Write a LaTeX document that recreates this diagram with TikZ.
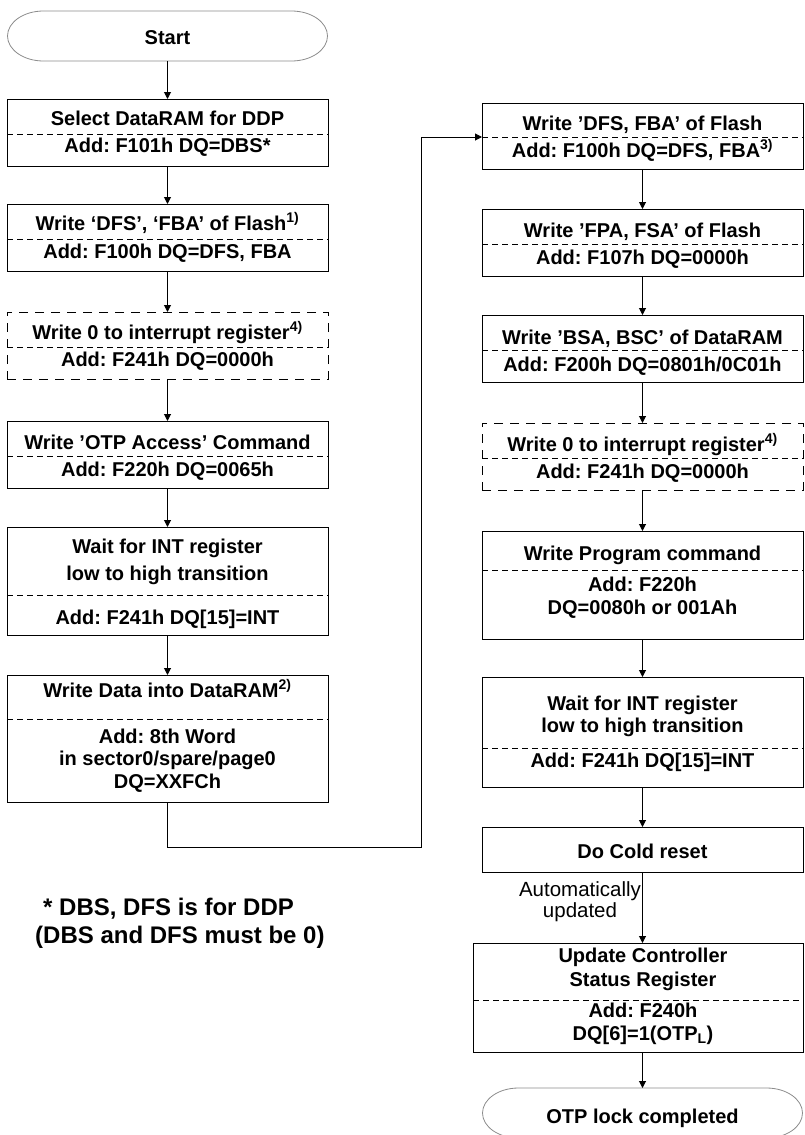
\documentclass[tikz,border=0pt]{standalone}
\usepackage{fontspec}
\setmainfont{Liberation Sans}
\usetikzlibrary{arrows.meta}
\definecolor{termgray}{HTML}{8C8C8C}
\frenchspacing
\begin{document}
\begin{tikzpicture}[x=1pt,y=-1pt,
  box/.style={draw, line width=1pt, rectangle, inner sep=0pt, outer sep=0pt, minimum width=321pt},
  dbox/.style={box, dash pattern=on 9pt off 7pt},
  term/.style={rectangle, inner sep=0pt, outer sep=0pt, minimum width=321pt, minimum height=50pt},
  txt/.style={anchor=base, inner sep=0pt, font=\bfseries\fontsize{20}{24}\selectfont},
  note/.style={anchor=base, inner sep=0pt, font=\fontsize{20.5}{24}\selectfont},
  foot/.style={anchor=base west, inner sep=0pt, font=\bfseries\fontsize{24}{28}\selectfont},
  arr/.style={-{Triangle[length=7pt,width=7pt]}, line width=1pt},
  divider/.style={dash pattern=on 6pt off 4pt, line width=0.8pt},
  termline/.style={draw=termgray, line width=0.8pt}]
\useasboundingbox (0,0) rectangle (804,1135);
\clip (0,0) rectangle (804,1135);

% ---------------- left column ----------------
\node[term] (start) at (167.5,36) {};
\draw[termline] (43.5,11) -- (291.5,11) arc[start angle=-90,end angle=90,x radius=36,y radius=25] -- (43.5,61) arc[start angle=90,end angle=270,x radius=36,y radius=25] -- cycle;
\node[txt] (t0) at (167.5,44) {Start};

\node[box, minimum height=67pt] (b1) at (167.5,132.5) {};
\draw[divider] (b1.west |- 0,134) -- (b1.east |- 0,134);
\node[txt] (b1a) at (167.5,125) {Select DataRAM for DDP};
\node[txt] (b1b) at (167.5,152) {Add: F101h DQ=DBS*};

\node[box, minimum height=67pt] (b2) at (167.5,237.5) {};
\draw[divider] (b2.west |- 0,239) -- (b2.east |- 0,239);
\node[txt] (b2a) at (167.5,230) {Write ‘DFS’, ‘FBA’ of Flash\textsuperscript{1)}};
\node[txt] (b2b) at (167.5,258) {Add: F100h DQ=DFS, FBA};

\node[dbox, minimum height=67pt] (b3) at (167.5,345.5) {};
\draw[divider] (b3.west |- 0,347) -- (b3.east |- 0,347);
\node[txt] (b3a) at (167.5,339) {Write 0 to interrupt register\textsuperscript{4)}};
\node[txt] (b3b) at (167.5,366) {Add: F241h DQ=0000h};

\node[box, minimum height=67pt] (b4) at (167.5,454.5) {};
\draw[divider] (b4.west |- 0,456) -- (b4.east |- 0,456);
\node[txt] (b4a) at (167.5,449) {Write ’OTP Access’ Command};
\node[txt] (b4b) at (167.5,476) {Add: F220h DQ=0065h};

\node[box, minimum height=108pt] (b5) at (167.5,581) {};
\draw[divider] (b5.west |- 0,595) -- (b5.east |- 0,595);
\node[txt] (b5a) at (167.5,553) {Wait for INT register};
\node[txt] (b5b) at (167.5,580) {low to high transition};
\node[txt] (b5c) at (167.5,624) {Add: F241h DQ[15]=INT};

\node[box, minimum height=127pt] (b6) at (167.5,738.5) {};
\draw[divider] (b6.west |- 0,719) -- (b6.east |- 0,719);
\node[txt] (b6a) at (167.5,697) {Write Data into DataRAM\textsuperscript{2)}};
\node[txt] (b6b) at (167.5,743) {Add: 8th Word};
\node[txt] (b6c) at (167.5,765) {in sector0/spare/page0};
\node[txt] (b6d) at (167.5,788) {DQ=XXFCh};

\node[foot] (f1) at (43,915) {* DBS, DFS is for DDP};
\node[foot] (f2) at (35,943) {(DBS and DFS must be 0)};

% ---------------- right column ----------------
\node[box, minimum height=66pt] (r1) at (642.5,136) {};
\draw[divider] (r1.west |- 0,137) -- (r1.east |- 0,137);
\node[txt] (r1a) at (642.5,130) {Write ’DFS, FBA’ of Flash};
\node[txt] (r1b) at (642.5,157) {Add: F100h DQ=DFS, FBA\textsuperscript{3)}};

\node[box, minimum height=67pt] (r2) at (642.5,242.5) {};
\draw[divider] (r2.west |- 0,244) -- (r2.east |- 0,244);
\node[txt] (r2a) at (642.5,237) {Write ’FPA, FSA’ of Flash};
\node[txt] (r2b) at (642.5,264) {Add: F107h DQ=0000h};

\node[box, minimum height=67pt] (r3) at (642.5,348.5) {};
\draw[divider] (r3.west |- 0,350) -- (r3.east |- 0,350);
\node[txt] (r3a) at (642.5,344) {Write ’BSA, BSC’ of DataRAM};
\node[txt] (r3b) at (642.5,371) {Add: F200h DQ=0801h/0C01h};

\node[dbox, minimum height=67pt] (r4) at (642.5,456.5) {};
\draw[divider] (r4.west |- 0,458) -- (r4.east |- 0,458);
\node[txt] (r4a) at (642.5,451) {Write 0 to interrupt register\textsuperscript{4)}};
\node[txt] (r4b) at (642.5,478) {Add: F241h DQ=0000h};

\node[box, minimum height=108pt] (r5) at (642.5,585) {};
\draw[divider] (r5.west |- 0,570) -- (r5.east |- 0,570);
\node[txt] (r5a) at (642.5,560) {Write Program command};
\node[txt] (r5b) at (642.5,591) {Add: F220h};
\node[txt] (r5c) at (642.5,614) {DQ=0080h or 001Ah};

\node[box, minimum height=110pt] (r6) at (642.5,732) {};
\draw[divider] (r6.west |- 0,748) -- (r6.east |- 0,748);
\node[txt] (r6a) at (642.5,710) {Wait for INT register};
\node[txt] (r6b) at (642.5,732) {low to high transition};
\node[txt] (r6c) at (642.5,767) {Add: F241h DQ[15]=INT};

\node[box, minimum height=45pt] (r7) at (642.5,849.5) {};
\node[txt] (r7a) at (642.5,858) {Do Cold reset};

\node[box, minimum width=330pt, minimum height=109pt] (r8) at (638,997.5) {};
\draw[divider] (r8.west |- 0,1000) -- (r8.east |- 0,1000);
\node[txt] (r8a) at (643,962) {Update Controller};
\node[txt] (r8b) at (643,986) {Status Register};
\node[txt] (r8c) at (643,1017) {Add: F240h};
\node[txt] (r8d) at (643,1040) {DQ[6]=1(OTP\textsubscript{L})};

\node[term] (end) at (642.5,1113) {};
\draw[termline] (518.5,1088) -- (766.5,1088) arc[start angle=-90,end angle=90,x radius=36,y radius=25] -- (518.5,1138) arc[start angle=90,end angle=270,x radius=36,y radius=25] -- cycle;
\node[txt] (enda) at (642.5,1123) {OTP lock completed};

\node[note] (n1) at (580,896) {Automatically};
\node[note] (n2) at (580,917) {updated};

% ---------------- connectors ----------------
\draw[arr] (start.south) -- (b1.north);
\draw[arr] (b1.south) -- (b2.north);
\draw[arr] (b2.south) -- (b3.north);
\draw[arr] (b3.south) -- (b4.north);
\draw[arr] (b4.south) -- (b5.north);
\draw[arr] (b5.south) -- (b6.north);
\coordinate (c1) at (421,847);
\coordinate (c2) at (421,137);
\draw[arr] (b6.south) |- (c1) -- (c2) -- (c2 -| r1.west);
\draw[arr] (r1.south) -- (r2.north);
\draw[arr] (r2.south) -- (r3.north);
\draw[arr] (r3.south) -- (r4.north);
\draw[arr] (r4.south) -- (r5.north);
\draw[arr] (r5.south) -- (r6.north);
\draw[arr] (r6.south) -- (r7.north);
\draw[arr] (r7.south) -- (r7.south |- r8.north);
\draw[arr] (r7.south |- r8.south) -- (r7.south |- end.north);
\end{tikzpicture}
\end{document}
